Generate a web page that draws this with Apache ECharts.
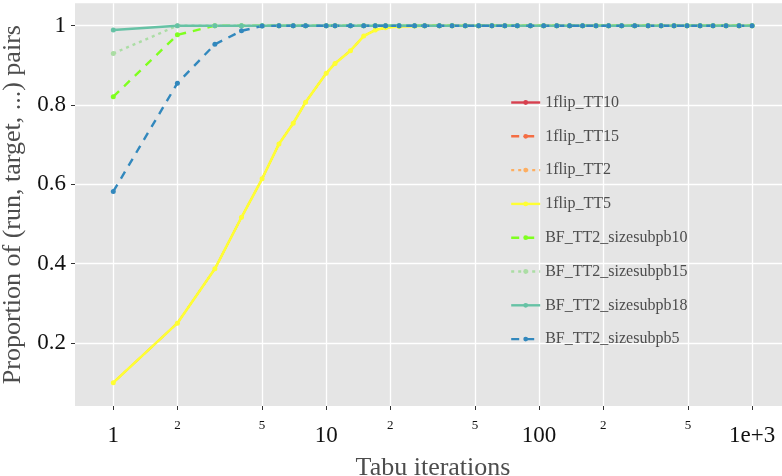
<!DOCTYPE html>
<html><head><meta charset="utf-8">
<script src="https://cdn.jsdelivr.net/npm/echarts@6/dist/echarts.min.js"></script>
<style>html,body{margin:0;padding:0;background:#fff}#c{width:782px;height:476px}</style>
</head><body><div id="c"></div>
<script>
// x values (Tabu iterations)
const iterations = [1,2,3,4,5,6,7,8,10,11,13,15,17,19,22,26,29,34,39,45,52,60,69,79,91,105,121,139,160,185,212,244,281,325,374,430,495,570,656,755,869,1000];
// series values
const flip_TT10 = [0.100,0.250,0.387,0.517,0.614,0.702,0.754,0.807,0.880,0.905,0.937,0.974,0.989,0.995,0.998,0.999,1,1,1,1,1,1,1,1,1,1,1,1,1,1,1,1,1,1,1,1,1,1,1,1,1,1];
const flip_TT15 = [0.100,0.250,0.387,0.517,0.614,0.702,0.754,0.807,0.880,0.905,0.937,0.974,0.989,0.995,0.998,0.999,1,1,1,1,1,1,1,1,1,1,1,1,1,1,1,1,1,1,1,1,1,1,1,1,1,1];
const flip_TT2  = [0.100,0.250,0.387,0.517,0.614,0.702,0.754,0.807,0.880,0.905,0.937,0.974,0.989,0.995,0.998,0.999,1,1,1,1,1,1,1,1,1,1,1,1,1,1,1,1,1,1,1,1,1,1,1,1,1,1];
const flip_TT5  = [0.100,0.250,0.387,0.517,0.614,0.702,0.754,0.807,0.880,0.905,0.937,0.974,0.989,0.995,0.998,0.999,1,1,1,1,1,1,1,1,1,1,1,1,1,1,1,1,1,1,1,1,1,1,1,1,1,1];
const bf_sub10 = [0.821,0.977,1,1,1,1,1,1,1,1,1,1,1,1,1,1,1,1,1,1,1,1,1,1,1,1,1,1,1,1,1,1,1,1,1,1,1,1,1,1,1,1];
const bf_sub15 = [0.930,1,1,1,1,1,1,1,1,1,1,1,1,1,1,1,1,1,1,1,1,1,1,1,1,1,1,1,1,1,1,1,1,1,1,1,1,1,1,1,1,1];
const bf_sub18 = [0.989,1,1,1,1,1,1,1,1,1,1,1,1,1,1,1,1,1,1,1,1,1,1,1,1,1,1,1,1,1,1,1,1,1,1,1,1,1,1,1,1,1];
const bf_sub5  = [0.582,0.855,0.953,0.987,0.999,1,1,1,1,1,1,1,1,1,1,1,1,1,1,1,1,1,1,1,1,1,1,1,1,1,1,1,1,1,1,1,1,1,1,1,1,1];
const seriesNames = ['1flip_TT10','1flip_TT15','1flip_TT2','1flip_TT5','BF_TT2_sizesubpb10','BF_TT2_sizesubpb15','BF_TT2_sizesubpb18','BF_TT2_sizesubpb5'];
// tick labels
const xTickValues = [1,2,5,10,20,50,100,200,500,1000];
const xTickLabels = ['1','2','5','10','2','5','100','2','5','1e+3'];
const xTickMajor  = [true,false,false,true,false,false,true,false,false,true];
const yTickValues = [0.2,0.4,0.6,0.8,1];

const FONT = 'Liberation Serif';
const colors = ['#D7404F','#F46D43','#FDAE61','#FFFF33','#7FFF1F','#ABDDA4','#66C2A5','#3288BD'];
const dash = [8,7], dot = [3,4];
const styles = ['solid', dash, dot, 'solid', dash, dot, 'solid', dash];
const values = [flip_TT10, flip_TT15, flip_TT2, flip_TT5, bf_sub10, bf_sub15, bf_sub18, bf_sub5];
// first three series lie exactly under 1flip_TT5; draw them slightly thinner so they stay hidden
const lineW = [1.6, 1.6, 1.6, 2.6, 2.4, 2.4, 2.4, 2.4];
const symS  = [3.5, 3.5, 3.5, 5, 5, 5, 5, 5];

const series = seriesNames.map((n, k) => ({
  name: n, type: 'line',
  data: iterations.map((x, i) => [x, values[k][i]]),
  symbol: 'circle', symbolSize: symS[k], showSymbol: true,
  lineStyle: {color: colors[k], width: lineW[k], type: styles[k]},
  itemStyle: {color: colors[k], borderWidth: 0, borderColor: colors[k]},
  emphasis: {disabled: true}
}));

const chart = echarts.init(document.getElementById('c'), null, {renderer: 'canvas'});
chart.setOption({
  animation: false,
  backgroundColor: '#ffffff',
  textStyle: {fontFamily: FONT},
  grid: {left: 75, right: -9, top: 3.3, bottom: 70, show: true, backgroundColor: '#E5E5E5', borderWidth: 0, outerBoundsMode: 'none', containLabel: false},
  legend: {
    orient: 'vertical', left: 505, top: 89.5,
    itemWidth: 29, itemHeight: 6, itemGap: 17.8,
    textStyle: {fontFamily: FONT, fontSize: 16, color: '#4d4d4d'},
    data: seriesNames.map(n => ({name: n, lineStyle: {width: 2.4}}))
  },
  xAxis: {
    type: 'log', logBase: 10, min: 0.661, max: 1524,
    name: 'Tabu iterations', nameLocation: 'middle', nameGap: 49,
    nameTextStyle: {fontFamily: FONT, fontSize: 26, color: '#4d4d4d', verticalAlign: 'top'},
    axisLine: {show: false},
    axisTick: {show: true, length: 4, lineStyle: {color: '#333'}, customValues: xTickValues},
    axisLabel: {
      customValues: xTickValues, margin: 12,
      formatter: function (v) {
        let idx = xTickValues.findIndex(t => Math.abs(t - v) / t < 1e-6);
        if (idx < 0) return '';
        return xTickMajor[idx] ? '{b|' + xTickLabels[idx] + '}' : '{s|' + xTickLabels[idx] + '}';
      },
      rich: {
        b: {fontFamily: FONT, fontSize: 23, color: '#111', padding: [6, 0, 0, 0]},
        s: {fontFamily: FONT, fontSize: 13, color: '#111', padding: [1, 0, 0, 0]}
      }
    },
    splitLine: {show: true, lineStyle: {color: '#ffffff', width: 1.3}},
    minorSplitLine: {show: false}
  },
  yAxis: {
    type: 'value', min: 0.0411, max: 1.0565,
    name: 'Proportion of (run, target, ...) pairs', nameLocation: 'middle', nameGap: 40, nameRotate: 90,
    nameTextStyle: {fontFamily: FONT, fontSize: 26, color: '#4d4d4d'},
    axisLine: {show: false},
    axisTick: {show: true, length: 4, lineStyle: {color: '#333'}, customValues: yTickValues},
    axisLabel: {customValues: yTickValues, margin: 9, fontFamily: FONT, fontSize: 23, color: '#111'},
    splitLine: {show: true, lineStyle: {color: '#ffffff', width: 1.3}}
  },
  series: series
});
</script>
</body></html>
